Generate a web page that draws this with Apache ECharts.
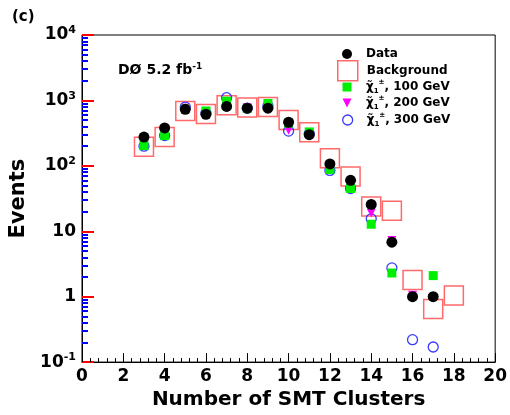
<!DOCTYPE html>
<html>
<head>
<meta charset="utf-8">
<script src="https://cdn.jsdelivr.net/npm/echarts@6/dist/echarts.min.js"></script>
<style>html,body{margin:0;padding:0;background:#fff;}#c{width:510px;height:415px;}</style>
</head>
<body>
<div id="c"></div>
<script>
// ---- data ----
const clusters = [3,4,5,6,7,8,9,10,11,12,13,14,15,16,17];
const dataEvents = [275,380,730,614,810,760,760,464,300,107,60,25.7,6.8,1.0,1.0];
const bgClusters = [3,4,5,6,7,8,9,10,11,12,13,14,15,16,17,18];
const bgEvents = [195,275,690,620,840,780,790,500,325,131,69,24,20.5,1.8,0.65,1.04];
const sig100 = [204,290,740,690,975,750,900,450,330,88,45,12.8,2.3,null,2.1];
const sig200 = [210,300,760,640,950,770,820,350,310,95,50,19,7.2,1.05,null];
const sig300 = [200,290,790,640,1100,760,820,340,310,85,45,15.5,2.75,0.22,0.17];

const FONT = 'DejaVu Sans';
const legendText = {
  'Data':'Data',
  'Background':'Background',
  's100':'{chi|χ̃}{sub|1}{sup|±}{t|, 100 GeV}',
  's200':'{chi|χ̃}{sub|1}{sup|±}{t|, 200 GeV}',
  's300':'{chi|χ̃}{sub|1}{sup|±}{t|, 300 GeV}'
};
function pairs(xs, ys){ const out=[]; xs.forEach((x,i)=>{ if(ys[i]!=null && ys[i]>0) out.push([x,ys[i]]); }); return out; }

const triDown = 'path://M0,0L10,0L5,10Z';
const RED = '#ff6a6a', GREEN = '#00ee00', MAG = '#ff00ff', BLUE = '#3a3aff';

const legendRich = {
  chi:{fontFamily:FONT,fontWeight:'bold',fontSize:12,lineHeight:16,color:'#000'},
  sub:{fontFamily:FONT,fontWeight:'bold',fontSize:7,lineHeight:7,verticalAlign:'bottom',color:'#000'},
  sup:{fontFamily:FONT,fontWeight:'bold',fontSize:7,lineHeight:7,verticalAlign:'top',color:'#000'},
  t:{fontFamily:FONT,fontWeight:'bold',fontSize:12,lineHeight:16,color:'#000'}
};
const legendDefs = [
  {name:'Data', w:10, cy:54, icon:'circle', style:{color:'#000', opacity:1}},
  {name:'Background', w:20, cy:70, icon:'rect', style:{color:'rgba(0,0,0,0)', borderColor:RED, borderWidth:1.5, opacity:1}},
  {name:'s100', w:9, cy:87, icon:'rect', style:{color:GREEN, opacity:1}},
  {name:'s200', w:9, cy:103, icon:triDown, style:{color:MAG, opacity:1}},
  {name:'s300', w:10, cy:120, icon:'circle', style:{color:'rgba(0,0,0,0)', borderColor:BLUE, borderWidth:1.3, opacity:1}}
];
const legends = legendDefs.map(d => {
  const h = Math.max(d.w, 16);
  return {
    show:true, orient:'vertical', left: 347 - d.w/2, top: d.cy - h/2,
    itemWidth:d.w, itemHeight:d.w, padding:0, selectedMode:false,
    data:[{name:d.name, icon:d.icon, itemStyle:d.style}],
    formatter: n => legendText[n],
    textStyle:{fontFamily:FONT,fontWeight:'bold',fontSize:12,lineHeight:16,color:'#000',
      padding:[0,0,0,14 - d.w/2], rich:legendRich}
  };
});

const chart = echarts.init(document.getElementById('c'), null, {renderer:'canvas'});
chart.setOption({
  animation:false,
  backgroundColor:'#fff',
  grid:{left:82, right:12, top:35, bottom:49, show:true, borderColor:'#000', borderWidth:1},
  legend: legends,
  xAxis:{
    type:'value', min:0, max:20, interval:2,
    name:'Number of SMT Clusters', nameLocation:'middle', nameGap:27,
    nameTextStyle:{fontFamily:FONT,fontWeight:'bold',fontSize:20,color:'#000'},
    axisLine:{show:true,lineStyle:{color:'#000',width:1}},
    axisTick:{show:true,inside:true,length:9,lineStyle:{color:'#000'}},
    minorTick:{show:true,splitNumber:5,length:4,lineStyle:{color:'#000'}},
    splitLine:{show:false},
    axisLabel:{fontFamily:FONT,fontWeight:'bold',fontSize:17,color:'#000',margin:6,
      formatter: v => String(v)}
  },
  yAxis:{
    type:'log', logBase:10, min:0.1, max:10000,
    name:'Events', nameLocation:'middle', nameGap:40, nameRotate:90,
    nameTextStyle:{fontFamily:FONT,fontWeight:'bold',fontSize:21,color:'#000'},
    axisLine:{show:true,lineStyle:{color:'#000',width:1}},
    axisTick:{show:true,inside:true,length:12,lineStyle:{color:'#f00',width:2}},
    minorTick:{show:true,splitNumber:9,length:6,lineStyle:{color:'#00f',width:2}},
    splitLine:{show:false},
    axisLabel:{margin:6, color:'#000',
      formatter: v => {
        const k = Math.round(Math.log10(v));
        if (k === 0) return '{b|1}';
        if (k === 1) return '{b|10}';
        return '{b|10}{s|' + k + '}';
      },
      rich:{
        b:{fontFamily:FONT,fontWeight:'bold',fontSize:17,lineHeight:20,color:'#000'},
        s:{fontFamily:FONT,fontWeight:'bold',fontSize:11,lineHeight:11,verticalAlign:'top',color:'#000'}
      }
    }
  },
  series:[
    {name:'Background', type:'scatter', symbol:'rect', symbolSize:19, z:2,
      itemStyle:{color:'rgba(0,0,0,0)', borderColor:RED, borderWidth:1.5, opacity:1},
      data:pairs(bgClusters,bgEvents)},
    {name:'s300', type:'scatter', symbol:'circle', symbolSize:10, z:3,
      itemStyle:{color:'rgba(0,0,0,0)', borderColor:BLUE, borderWidth:1.3, opacity:1},
      data:pairs(clusters,sig300)},
    {name:'s200', type:'scatter', symbol:triDown, symbolSize:9, z:4,
      itemStyle:{color:MAG, opacity:1}, data:pairs(clusters,sig200)},
    {name:'s100', type:'scatter', symbol:'rect', symbolSize:9, z:5,
      itemStyle:{color:GREEN, opacity:1}, data:pairs(clusters,sig100)},
    {name:'Data', type:'scatter', symbol:'circle', symbolSize:11, z:6,
      itemStyle:{color:'#000', opacity:1}, data:pairs(clusters,dataEvents)}
  ],
  graphic:[
    {type:'text', left:12, top:10, style:{text:'(c)', font:'bold 15px "DejaVu Sans"', fill:'#000'}},
    {type:'text', left:118, top:62, style:{
      text:'{m|DØ 5.2 fb}{s|-1}', rich:{
        m:{fontFamily:FONT,fontWeight:'bold',fontSize:14,lineHeight:17,fill:'#000'},
        s:{fontFamily:FONT,fontWeight:'bold',fontSize:9,lineHeight:9,verticalAlign:'top',fill:'#000'}
      }}}
  ]
});
</script>
</body>
</html>
